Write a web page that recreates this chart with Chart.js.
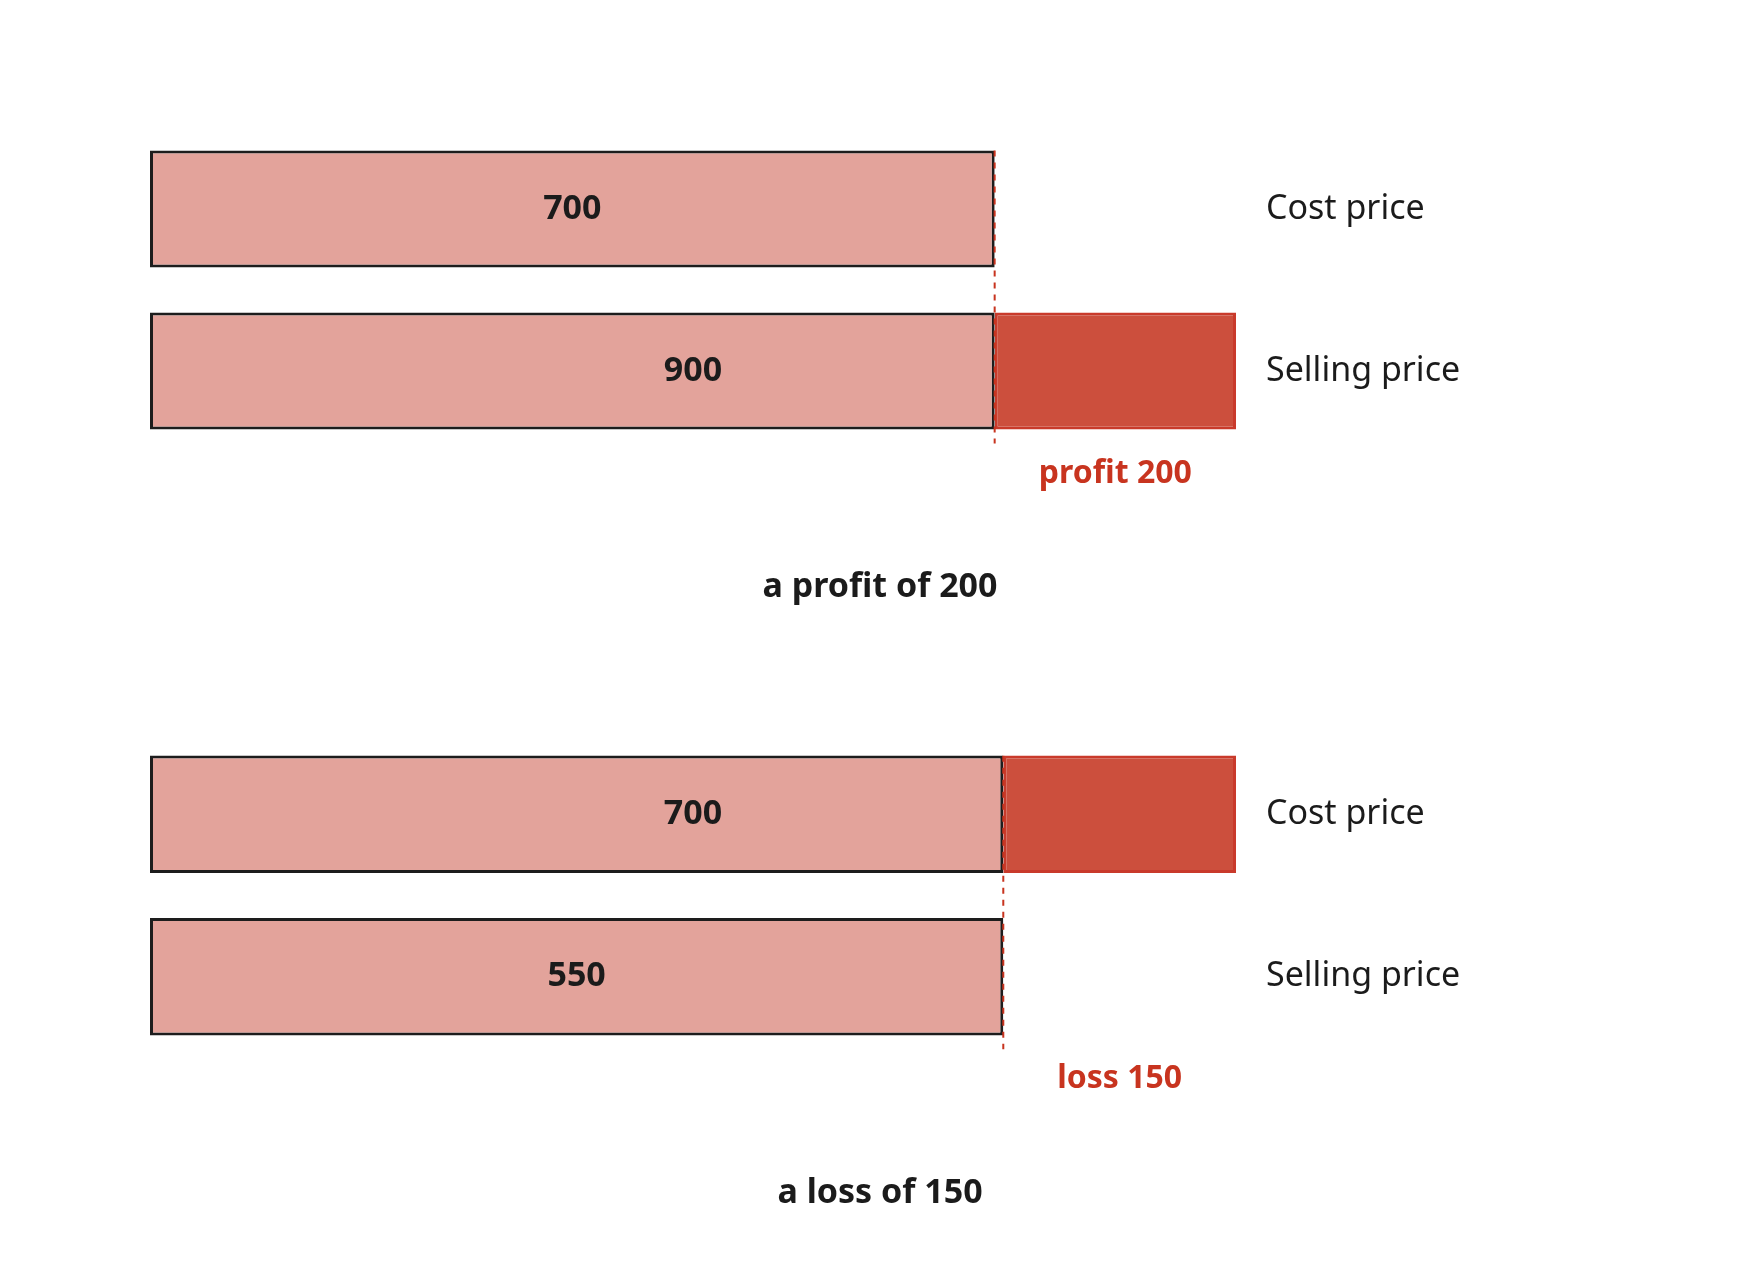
<!DOCTYPE html>
<html><head><meta charset="utf-8">
<script src="https://cdn.jsdelivr.net/npm/chart.js@4"></script>
<style>
body{margin:0;background:#fff}
.p{position:absolute;left:0;width:1760px;height:640px}
</style></head><body>
<div class="p" style="top:0"><canvas id="c1"></canvas></div>
<div class="p" style="top:640px"><canvas id="c2"></canvas></div>
<script>
const categories = ['Cost price', 'Selling price'];
// profit case
const profitCost = 700, profitSell = 900;
// loss case
const lossCost = 700, lossSell = 550;

const LIGHT = '#e3a39b', DARK = '#cc4f3d', DARKLINE = '#c93a2b', RED = '#c8341f', INK = '#1b1b1b';
const FONT = '"Noto Sans", sans-serif';

function makePanel(id, cost, sell, diffText, title, padTop, padBottom) {
  const totals = [cost, sell];
  const base = Math.min(cost, sell);
  const baseVals = [base, base];
  const extra = [cost - base, sell - base];
  const maxV = Math.max(cost, sell);
  const marker = {
    id: 'marker',
    afterDatasetsDraw(chart) {
      const {ctx, scales: {x, y}} = chart;
      const ys = categories.map((_, i) => y.getPixelForValue(i));
      const half = 58.5;
      const xb = x.getPixelForValue(base);
      ctx.save();
      ctx.strokeStyle = RED; ctx.lineWidth = 2; ctx.setLineDash([6, 6]);
      ctx.beginPath(); ctx.moveTo(xb, ys[0] - half); ctx.lineTo(xb, ys[1] + half + 14); ctx.stroke();
      ctx.setLineDash([]);
      ctx.textAlign = 'center'; ctx.textBaseline = 'middle';
      ctx.fillStyle = INK; ctx.font = 'bold 34px ' + FONT;
      totals.forEach((v, i) => {
        ctx.fillText(String(v), (x.getPixelForValue(0) + x.getPixelForValue(v)) / 2, ys[i]);
      });
      ctx.fillStyle = RED; ctx.font = 'bold 32px ' + FONT;
      ctx.fillText(diffText, (xb + x.getPixelForValue(maxV)) / 2, ys[1] + half + 44);
      ctx.fillStyle = INK; ctx.font = 'bold 34px ' + FONT;
      ctx.fillText(title, chart.width / 2, ys[1] + half + 158);
      ctx.textAlign = 'left'; ctx.font = '34px ' + FONT;
      categories.forEach((c, i) => ctx.fillText(c, x.getPixelForValue(maxV) + 30, ys[i]));
      ctx.restore();
    }
  };
  new Chart(document.getElementById(id), {
    type: 'bar',
    data: {
      labels: categories,
      datasets: [
        {data: baseVals, backgroundColor: LIGHT, borderColor: '#1d1d1d', borderWidth: 3, borderSkipped: false},
        {data: extra, backgroundColor: DARK, borderColor: DARKLINE, borderWidth: 3, borderSkipped: false}
      ]
    },
    options: {
      indexAxis: 'y', responsive: true, maintainAspectRatio: false, animation: false,
      layout: {padding: {left: 150, right: 524, top: padTop, bottom: padBottom}},
      datasets: {bar: {barPercentage: 0.722, categoryPercentage: 1}},
      scales: {
        x: {stacked: true, min: 0, max: maxV, display: false},
        y: {stacked: true, display: false}
      },
      plugins: {legend: {display: false}, tooltip: {enabled: false}}
    },
    plugins: [marker]
  });
}
makePanel('c1', profitCost, profitSell, 'profit 200', 'a profit of 200', 128, 188);
makePanel('c2', lossCost, lossSell, 'loss 150', 'a loss of 150', 93, 222);
</script></body></html>
